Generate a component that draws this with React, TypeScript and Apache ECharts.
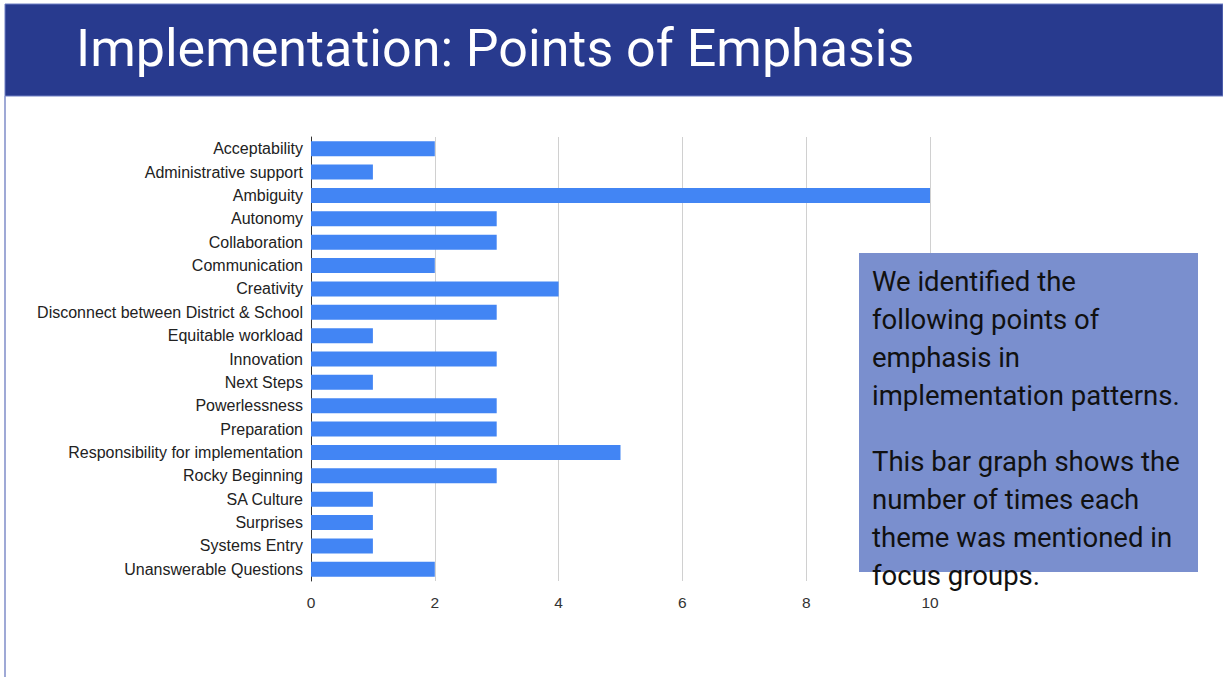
import React, { useEffect, useRef } from "react";
import * as echarts from "echarts";

const categories = [
  "Acceptability",
  "Administrative support",
  "Ambiguity",
  "Autonomy",
  "Collaboration",
  "Communication",
  "Creativity",
  "Disconnect between District & School",
  "Equitable workload",
  "Innovation",
  "Next Steps",
  "Powerlessness",
  "Preparation",
  "Responsibility for implementation",
  "Rocky Beginning",
  "SA Culture",
  "Surprises",
  "Systems Entry",
  "Unanswerable Questions",
];
const counts = [2, 1, 10, 3, 3, 2, 4, 3, 1, 3, 1, 3, 3, 5, 3, 1, 1, 1, 2];

const titleText = "Implementation: Points of Emphasis";
const paragraph1 = ["We identified the", "following points of", "emphasis in", "implementation patterns."];
const paragraph2 = ["This bar graph shows the", "number of times each", "theme was mentioned in", "focus groups."];

export default function App() {
  const ref = useRef<HTMLDivElement>(null);
  useEffect(() => {
    const chart = echarts.init(ref.current!, null, { renderer: "svg" });
    chart.setOption({
      animation: false,
      backgroundColor: "#ffffff",
      grid: { left: 311, right: 293, top: 137, height: 444, containLabel: false },
      xAxis: {
        type: "value",
        min: 0,
        max: 10,
        interval: 2,
        axisLine: { show: false },
        axisTick: { show: false },
        splitLine: { show: true, lineStyle: { color: "#d0d0d0", width: 1 } },
        axisLabel: { color: "#333333", fontSize: 15.5, fontFamily: "Liberation Sans, Arial, sans-serif", margin: 13 },
      },
      yAxis: {
        type: "category",
        data: categories,
        inverse: true,
        axisLine: { show: true, lineStyle: { color: "#333333", width: 1 } },
        axisTick: { show: false },
        axisLabel: { color: "#222222", fontSize: 16, fontFamily: "Liberation Sans, Arial, sans-serif", margin: 8 },
      },
      series: [
        {
          type: "bar",
          data: counts,
          barWidth: 15,
          itemStyle: { color: "#4285f4" },
          z: 3,
        },
      ],
      graphic: [
        {
          type: "rect",
          shape: { x: 5, y: 4, width: 1218, height: 92 },
          style: { fill: "#283a8e", stroke: "#6f7fc4", lineWidth: 1 },
          z: 10,
        },
        {
          type: "line",
          shape: { x1: 5, y1: 96, x2: 5, y2: 677 },
          style: { stroke: "#7f8cc8", lineWidth: 1.5 },
          z: 10,
        },
        {
          type: "text",
          x: 76,
          y: 48,
          style: {
            text: titleText,
            fill: "#ffffff",
            font: "52px Roboto, 'Open Sans', sans-serif",
            textVerticalAlign: "middle",
          },
          z: 11,
        },
        {
          type: "rect",
          shape: { x: 859, y: 253, width: 339, height: 319 },
          style: { fill: "#7a8fce" },
          z: 10,
        },
        {
          type: "text",
          x: 872,
          y: 262,
          style: {
            text: paragraph1.join("\n"),
            fill: "#111111",
            font: "27.5px Roboto, sans-serif",
            lineHeight: 38,
            textVerticalAlign: "top",
          },
          z: 11,
        },
        {
          type: "text",
          x: 872,
          y: 442,
          style: {
            text: paragraph2.join("\n"),
            fill: "#111111",
            font: "27.5px Roboto, sans-serif",
            lineHeight: 38,
            textVerticalAlign: "top",
          },
          z: 11,
        },
      ],
    });
    return () => chart.dispose();
  }, []);
  return (
    <div
      ref={ref}
      style={{ position: "fixed", left: 0, top: 0, width: 1223, height: 677 }}
    />
  );
}
